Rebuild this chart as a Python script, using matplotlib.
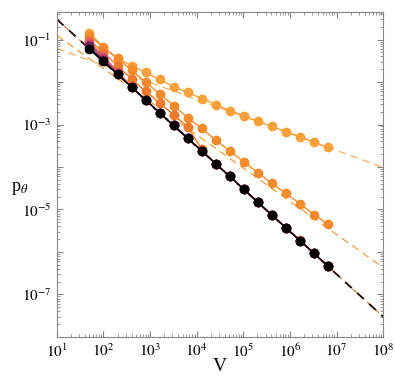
import numpy as np
import matplotlib
matplotlib.use("Agg")
import matplotlib.pyplot as plt
from matplotlib.ticker import FixedLocator, FuncFormatter, NullFormatter

plt.rcParams['font.family'] = 'serif'
plt.rcParams['font.serif'] = ['Liberation Serif', 'DejaVu Serif']
plt.rcParams['mathtext.fontset'] = 'stix'

# system sizes
V = [50, 100, 200, 400, 800, 1600, 3200, 6400, 12800, 25600, 51200, 102400,
     204800, 409600, 819200, 1638400, 3276800, 6553600]

# probabilities, top series first
p_top = [0.146, 0.065, 0.0357, 0.0244, 0.0168, 0.0115, 0.0078, 0.0057, 0.0041,
         0.00296, 0.00213, 0.00163, 0.00118, 0.0009, 0.00068, 0.00052, 0.00038, 0.00029]
p_mid = [0.124, 0.066, 0.036, 0.0189, 0.0099, 0.0053, 0.0028, 0.00146, 0.00081,
         0.00043, 0.00024, 0.000132, 7.4e-5, 4.1e-5, 2.4e-5, 1.37e-5, 7.6e-6, 4.5e-6]
p_s3 = [0.098, 0.049, 0.024, 0.0118, 0.0061, 0.0032, 0.0017, 0.00088, 0.00026,
        0.000121, 6.05e-5, 3.02e-5, 1.5e-5, 7.5e-6, 3.75e-6, 1.88e-6, 9.4e-7, 4.7e-7]
p_s4 = [0.087, 0.041, 0.0175, 0.0078, 0.0038, 0.0019, 0.00095, 0.00048, 0.00024,
        0.000119, 6.0e-5, 3.0e-5, 1.49e-5, 7.4e-6, 3.7e-6, 1.86e-6, 9.3e-7, 4.65e-7]
p_s5 = [0.078, 0.037, 0.0162, 0.0077, 0.0038, 0.0019, 0.00095, 0.00048, 0.00024,
        0.000119, 6.0e-5, 3.0e-5, 1.49e-5, 7.4e-6, 3.7e-6, 1.86e-6, 9.3e-7, 4.65e-7]
p_s6 = [0.069, 0.033, 0.0156, 0.0076, 0.0038, 0.0019, 0.00095, 0.00048, 0.00024,
        0.000119, 6.0e-5, 3.0e-5, 1.49e-5, 7.4e-6, 3.7e-6, 1.86e-6, 9.3e-7, 4.65e-7]
p_black = [0.061, 0.0305, 0.0153, 0.0076, 0.0038, 0.0019, 0.00095, 0.00048, 0.00024,
           0.000119, 6.0e-5, 3.0e-5, 1.49e-5, 7.4e-6, 3.7e-6, 1.86e-6, 9.3e-7, 4.65e-7]

# power-law fits, end points at V = 10 and V = 1e8
fit_V = [10, 1e8]
fit_top = [0.0617, 9.8e-5]
fit_mid = [0.125, 4.3e-7]
fit_black = [0.30, 3.0e-8]

x_exp = [1, 2, 3, 4, 5, 6, 7, 8]
y_exp = [-1, -3, -5, -7]

series = [
    (p_black, '#000000'),
    (p_s6, '#6b2560'),
    (p_s5, '#c0456f'),
    (p_s4, '#e8605a'),
    (p_s3, '#ef7a2a'),
    (p_mid, '#f58c2c'),
    (p_top, '#f8a03a'),
]

fig = plt.figure(figsize=(3.95, 3.82), dpi=100)
ax = fig.add_axes([0.144, 0.118, 0.826, 0.851])

ax.plot(fit_V, fit_top, ls=(0, (6, 4)), color='#f8b060', lw=0.9, zorder=1)
ax.plot(fit_V, fit_mid, ls=(0, (6, 4)), color='#f59a40', lw=0.9, zorder=1)
ax.plot(fit_V, fit_black, ls=(0, (5, 4)), color='#d07030', lw=0.8, zorder=1)
ax.plot(fit_V, fit_black, ls=(0, (5, 4)), color='#1a0808', lw=1.3, zorder=2)

for p, c in series[::-1]:
    ax.plot(V, p, '-o', color=c, ms=6, lw=1.0, mec=c, zorder=4 if c == '#000000' else 3)

ax.set_xscale('log')
ax.set_yscale('log')
ax.set_xlim(10, 1e8)
ax.set_ylim(1e-8, 0.45)

xmaj = [10.0 ** e for e in x_exp]
xmin = [m * 10.0 ** e for e in range(1, 8) for m in range(2, 10)]
ymaj = [10.0 ** e for e in range(-8, 0)]
ymin = [m * 10.0 ** e for e in range(-8, 0) for m in range(2, 10) if m * 10.0 ** e < 0.45]

ax.xaxis.set_major_locator(FixedLocator(xmaj))
ax.xaxis.set_minor_locator(FixedLocator(xmin))
ax.yaxis.set_major_locator(FixedLocator(ymaj))
ax.yaxis.set_minor_locator(FixedLocator(ymin))

def xfmt(v, pos):
    return r'$10^{%d}$' % round(np.log10(v))

def yfmt(v, pos):
    e = int(round(np.log10(v)))
    if e not in y_exp:
        return ''
    return r'$10^{%d}$' % e

ax.xaxis.set_major_formatter(FuncFormatter(xfmt))
ax.yaxis.set_major_formatter(FuncFormatter(yfmt))
ax.xaxis.set_minor_formatter(NullFormatter())
ax.yaxis.set_minor_formatter(NullFormatter())

ax.tick_params(which='both', direction='in', top=True, right=True, color='#888888')
ax.tick_params(which='major', length=4, labelsize=11, pad=4)
ax.tick_params(which='minor', length=2)
for s in ax.spines.values():
    s.set_color('#888888')

ax.set_xlabel('V', fontsize=14)
ax.xaxis.set_label_coords(0.5, -0.065)
ax.set_ylabel(r'p$_\theta$', fontsize=13, rotation=0, va='center', ha='center')
ax.yaxis.set_label_coords(-0.113, 0.458)

fig.savefig('out.png', dpi=100)
